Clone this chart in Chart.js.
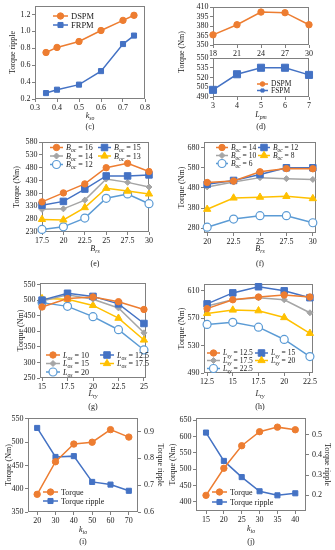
<!DOCTYPE html>
<html><head><meta charset="utf-8">
<script src="https://cdn.jsdelivr.net/npm/chart.js@4.4.1/dist/chart.umd.min.js"></script>
<style>html,body{margin:0;padding:0;background:#fff}body{width:335px;height:550px;position:relative;overflow:hidden}canvas{position:absolute}</style>
</head><body>
<script>
// ---------------- data ----------------
// (c) torque ripple vs k_so
const cKso = [0.35, 0.4, 0.5, 0.6, 0.7, 0.75];
const cDSPM = [0.75, 0.81, 0.88, 1.01, 1.13, 1.19];
const cFRPM = [0.27, 0.31, 0.37, 0.53, 0.85, 0.95];
const cXTicks = [0.3, 0.4, 0.5, 0.6, 0.7, 0.8];
const cYTicks = [0.2, 0.4, 0.6, 0.8, 1.0, 1.2];
// (d) torque vs L_pm
const dLpmDSPM = [18, 21, 24, 27, 30];
const dDSPM = [366, 382, 402, 401, 382];
const dLpmFSPM = [3, 4, 5, 6, 7];
const dFSPM = [501, 525, 535, 535, 524];
const dTopYTicks = [350, 365, 380, 395, 410];
const dBotYTicks = [490, 505, 520, 535, 550];
// (e) torque vs B_rs for B_oc
const eBrs = [17.5, 20, 22.5, 25, 27.5, 30];
const eB16 = [347, 382, 417, 480, 497, 465];
const eB15 = [334, 349, 397, 448, 448, 452];
const eB14 = [318, 320, 354, 436, 423, 405];
const eB13 = [279, 277, 325, 400, 389, 378];
const eB12 = [240, 250, 284, 361, 378, 340];
const eYTicks = [230, 280, 330, 380, 430, 480, 530, 580];
// (f) torque vs B_rs for B_oc
const fBrs = [20, 22.5, 25, 27.5, 30];
const fB14 = [507, 514, 560, 576, 575];
const fB12 = [498, 517, 547, 580, 580];
const fB10 = [485, 509, 531, 526, 522];
const fB8 = [374, 430, 434, 438, 427];
const fB6 = [285, 325, 342, 342, 307];
const fYTicks = [280, 380, 480, 580, 680];
// (g) torque vs L_ry for L_os
const gLry = [15, 17.5, 20, 22.5, 25];
const gL10 = [478, 505, 510, 495, 470];
const gL125 = [500, 522, 512, 488, 425];
const gL15 = [497, 517, 503, 475, 395];
const gL175 = [505, 503, 483, 442, 372];
const gL20 = [492, 480, 447, 405, 340];
const gYTicks = [250, 300, 350, 400, 450, 500, 550];
// (h) torque vs L_ry for L_sy
const hLry = [12.5, 15, 17.5, 20, 22.5];
const hL125 = [584, 597, 601, 604, 601];
const hL15 = [591, 607, 616, 610, 600];
const hL175 = [588, 597, 600, 597, 578];
const hL20 = [577, 582, 581, 571, 548];
const hL225 = [561, 564, 557, 539, 514];
const hYTicks = [490, 530, 570, 610];
// (i) torque & ripple vs k_io
const iKio = [20, 30, 40, 50, 60, 70];
const iTorque = [388, 458, 496, 500, 527, 511];
const iRipple = [0.913, 0.805, 0.808, 0.712, 0.702, 0.679];
const iYTicks = [350, 400, 450, 500, 550];
const iY2Ticks = [0.6, 0.7, 0.8, 0.9];
// (j) torque & ripple vs k_io
const jKio = [15, 20, 25, 30, 35, 40];
const jTorque = [420, 503, 572, 615, 629, 621];
const jRipple = [0.51, 0.37, 0.29, 0.22, 0.20, 0.21];
const jYTicks = [400, 450, 500, 550, 600, 650];
const jY2Ticks = [0.2, 0.3, 0.4, 0.5];

// ---------------- styling ----------------
const FONT = "'Liberation Serif','Times New Roman',Times,serif";
const FS = 8;
const C = { or: '#ED7D31', bl: '#4472C4', gr: '#A5A5A5', ye: '#FFC000', lb: '#5B9BD5', frame: '#808080', txt: '#1a1a1a' };
const ST = {
  or: { c: C.or, ps: 'circle', r: 3.2 },
  bl: { c: C.bl, ps: 'rect', r: 4.6 },
  gr: { c: C.gr, ps: 'rectRot', r: 3 },
  ye: { c: C.ye, ps: 'triangle', r: 4.2 },
  lb: { c: C.lb, ps: 'circle', r: 4, open: true },
};

function ds(xs, ys, st, axisId) {
  return {
    data: xs.map((x, i) => ({ x, y: ys[i] })),
    borderColor: st.c, backgroundColor: st.c,
    pointBackgroundColor: st.open ? '#fff' : st.c, pointBorderColor: st.c,
    pointStyle: st.ps, pointRadius: st.r, pointBorderWidth: st.open ? 1.2 : 1,
    borderWidth: 1.5, tension: 0, yAxisID: axisId || 'y', clip: false
  };
}

function rich(ctx, parts, x, y, size, align) {
  align = align || 'center';
  const f = k => (k === 'n' ? '' : 'italic ') + (k === 's' ? size * 0.72 : size) + 'px ' + FONT;
  let w = 0;
  for (const [t, k] of parts) { ctx.font = f(k); w += ctx.measureText(t).width; }
  let cx = align === 'center' ? x - w / 2 : align === 'right' ? x - w : x;
  ctx.textAlign = 'left'; ctx.textBaseline = 'alphabetic'; ctx.fillStyle = C.txt;
  for (const [t, k] of parts) {
    ctx.font = f(k);
    ctx.fillText(t, cx, y + (k === 's' ? size * 0.28 : 0));
    cx += ctx.measureText(t).width;
  }
}
function marker(ctx, st, x, y, r) {
  r = r || st.r;
  ctx.beginPath();
  if (st.ps === 'circle') ctx.arc(x, y, r, 0, Math.PI * 2);
  else if (st.ps === 'rect') { const s = r * Math.SQRT1_2; ctx.rect(x - s, y - s, 2 * s, 2 * s); }
  else if (st.ps === 'rectRot') { ctx.moveTo(x, y - r); ctx.lineTo(x + r, y); ctx.lineTo(x, y + r); ctx.lineTo(x - r, y); ctx.closePath(); }
  else if (st.ps === 'triangle') { ctx.moveTo(x, y - r); ctx.lineTo(x + r * 0.866, y + r * 0.5); ctx.lineTo(x - r * 0.866, y + r * 0.5); ctx.closePath(); }
  ctx.fillStyle = st.open ? '#fff' : st.c; ctx.fill();
  ctx.strokeStyle = st.c; ctx.lineWidth = st.open ? 1.2 : 1; ctx.stroke();
}
function legItem(ctx, x, y, len, st, parts, size, r) {
  ctx.save();
  ctx.strokeStyle = st.c; ctx.lineWidth = 1.5;
  ctx.beginPath(); ctx.moveTo(x, y); ctx.lineTo(x + len, y); ctx.stroke();
  marker(ctx, st, x + len / 2, y, r);
  ctx.restore();
  rich(ctx, parts, x + len + 3, y + size * 0.33, size, 'left');
}
function legGrid(ctx, items, cols, rows, len, size) {
  items.forEach((it, k) => {
    const x = cols[k % 2], y = rows[Math.floor(k / 2)];
    legItem(ctx, x, y, len, it[0], it[1], size, it[2]);
  });
}
const lab = (b, s, v) => [[b, 'i'], [s, 's'], [' = ' + v, 'n']];

function axis(spec, pos, afterFit, title, pad) {
  return {
    type: 'linear', position: pos, min: spec.min, max: spec.max,
    afterBuildTicks: s => { s.ticks = spec.ticks.map(v => ({ value: v })); },
    afterFit,
    ticks: { callback: spec.fmt || (v => String(v)), font: { family: FONT, size: FS }, color: C.txt,
      padding: pad == null ? 1.5 : pad, maxRotation: 0, minRotation: 0, autoSkip: false },
    grid: { display: true, drawOnChartArea: false, drawTicks: true, tickLength: 3, color: C.frame, lineWidth: 1 },
    border: { display: false },
    title: title ? { display: true, text: title, font: { family: FONT, size: FS }, color: C.txt, padding: 0 } : { display: false },
  };
}

function panel(p) {
  const [l, t, r, b] = p.rect;
  const padT = p.padT == null ? 9 : p.padT;
  const rW = p.rW || 0;
  const padR = rW ? 0 : 12;
  const ox = l - p.yW, oy = t - padT;
  const W = p.yW + (r - l) + rW + padR;
  const H = padT + (b - t) + p.xH;
  const cv = document.createElement('canvas');
  cv.width = W; cv.height = H;
  cv.style.left = ox + 'px'; cv.style.top = oy + 'px';
  cv.style.width = W + 'px'; cv.style.height = H + 'px';
  document.body.appendChild(cv);
  const scales = {
    x: axis(p.x, 'bottom', s => { s.height = p.xH; }),
    y: axis(p.y, 'left', s => { s.width = p.yW; }, p.yTitle),
  };
  if (p.y2) scales.y2 = axis(p.y2, 'right', s => { s.width = rW; }, p.y2Title, 3);
  new Chart(cv, {
    type: 'line',
    data: { datasets: p.datasets },
    options: {
      responsive: false, animation: false, devicePixelRatio: 1, events: [],
      layout: { padding: { top: padT, right: padR, left: 0, bottom: 0 } },
      plugins: { legend: { display: false }, tooltip: { enabled: false } },
      scales,
    },
    plugins: [{
      id: 'frameExtra',
      beforeDatasetsDraw(chart) {
        const a = chart.chartArea, ctx = chart.ctx;
        ctx.save(); ctx.strokeStyle = C.frame; ctx.lineWidth = 1;
        ctx.strokeRect(Math.round(a.left) + 0.5, Math.round(a.top) + 0.5, Math.round(a.right - a.left) - 1, Math.round(a.bottom - a.top) - 1);
        ctx.restore();
      },
      afterDraw(chart) {
        if (!p.extra) return;
        const ctx = chart.ctx;
        ctx.save(); ctx.translate(-ox, -oy); p.extra(ctx); ctx.restore();
      }
    }]
  });
}
const f1 = v => v.toFixed(1);

// (c)
panel({
  rect: [35, 6, 145, 99], yW: 27, xH: 33,
  x: { min: 0.3, max: 0.8, ticks: cXTicks, fmt: f1 },
  y: { min: 0.2, max: 1.3, ticks: cYTicks, fmt: f1 },
  yTitle: 'Torque ripple',
  datasets: [ds(cKso, cDSPM, ST.or), ds(cKso, cFRPM, { ...ST.bl, r: 3.6 })],
  extra: ctx => {
    rich(ctx, [['k', 'i'], ['so', 's']], 90, 117.5, FS);
    rich(ctx, [['(c)', 'n']], 90, 129, FS);
    legItem(ctx, 53, 16, 15, ST.or, [['DSPM', 'n']], 8.5);
    legItem(ctx, 53, 25, 15, { ...ST.bl, r: 3.6 }, [['FRPM', 'n']], 8.5);
  }
});
// (d) top
panel({
  rect: [213, 7, 309, 45], yW: 30, xH: 12,
  x: { min: 18, max: 30, ticks: dLpmDSPM },
  y: { min: 350, max: 410, ticks: dTopYTicks },
  datasets: [ds(dLpmDSPM, dDSPM, ST.or)],
});
// (d) bottom
panel({
  rect: [213, 58, 309, 97], yW: 40, xH: 34, padT: 30,
  x: { min: 3, max: 7, ticks: dLpmFSPM },
  y: { min: 490, max: 550, ticks: dBotYTicks },
  datasets: [ds(dLpmFSPM, dFSPM, { ...ST.bl, r: 5 })],
  extra: ctx => {
    ctx.save(); ctx.translate(181, 52); ctx.rotate(-Math.PI / 2);
    rich(ctx, [['Torque (Nm)', 'n']], 0, 3, FS); ctx.restore();
    rich(ctx, [['L', 'i'], ['pm', 's']], 261, 117, FS);
    rich(ctx, [['(d)', 'n']], 261, 129, FS);
    legItem(ctx, 257, 84, 11, ST.or, [['DSPM', 'n']], 7.5, 2.3);
    legItem(ctx, 257, 90.5, 11, ST.bl, [['FSPM', 'n']], 7.5, 2.2);
  }
});
// (e)
panel({
  rect: [42, 142, 149, 232], yW: 30, xH: 36,
  x: { min: 17.5, max: 30, ticks: eBrs },
  y: { min: 230, max: 580, ticks: eYTicks },
  yTitle: 'Torque (Nm)',
  datasets: [ds(eBrs, eB16, ST.or), ds(eBrs, eB15, ST.bl), ds(eBrs, eB14, ST.gr), ds(eBrs, eB13, ST.ye), ds(eBrs, eB12, ST.lb)],
  extra: ctx => {
    rich(ctx, [['B', 'i'], ['rs', 's']], 95, 250.5, FS);
    rich(ctx, [['(e)', 'n']], 95, 266, FS);
    legGrid(ctx, [[ST.or, lab('B', 'oc', 16)], [ST.bl, lab('B', 'oc', 15)], [ST.gr, lab('B', 'oc', 14)], [ST.ye, lab('B', 'oc', 13)], [ST.lb, lab('B', 'oc', 12)]],
      [50, 98], [147.5, 156, 164.5], 13, 8);
  }
});
// (f)
panel({
  rect: [204, 142, 316, 233], yW: 27, xH: 35,
  x: { min: 19.7, max: 30.3, ticks: fBrs },
  y: { min: 256, max: 708, ticks: fYTicks },
  yTitle: 'Torque (Nm)',
  datasets: [ds(fBrs, fB14, ST.or), ds(fBrs, fB12, ST.bl), ds(fBrs, fB10, ST.gr), ds(fBrs, fB8, ST.ye), ds(fBrs, fB6, ST.lb)],
  extra: ctx => {
    rich(ctx, [['B', 'i'], ['rs', 's']], 260, 250.5, FS);
    rich(ctx, [['(f)', 'n']], 260, 266, FS);
    legGrid(ctx, [[ST.or, lab('B', 'oc', 14)], [ST.bl, lab('B', 'oc', 12)], [ST.gr, lab('B', 'oc', 10)], [ST.ye, lab('B', 'oc', 8)], [ST.lb, lab('B', 'oc', 6)]],
      [216, 258], [147.5, 155.5, 163.5], 12, 7.5);
  }
});
// (g)
panel({
  rect: [40, 283, 146, 378], yW: 24, xH: 33,
  x: { min: 14.8, max: 25.2, ticks: gLry },
  y: { min: 250, max: 555, ticks: gYTicks },
  yTitle: 'Torque (Nm)',
  datasets: [ds(gLry, gL10, ST.or), ds(gLry, gL125, ST.bl), ds(gLry, gL15, ST.gr), ds(gLry, gL175, ST.ye), ds(gLry, gL20, ST.lb)],
  extra: ctx => {
    rich(ctx, [['L', 'i'], ['ry', 's']], 93, 395.5, FS);
    rich(ctx, [['(g)', 'n']], 93, 409, FS);
    legGrid(ctx, [[ST.or, lab('L', 'os', 10)], [ST.bl, lab('L', 'os', 12.5)], [ST.gr, lab('L', 'os', 15)], [ST.ye, lab('L', 'os', 17.5)], [ST.lb, lab('L', 'os', 20)]],
      [46, 100], [355, 363.5, 372], 14, 8);
  }
});
// (h)
panel({
  rect: [204, 284, 313, 373], yW: 27, xH: 38,
  x: { min: 12.2, max: 22.8, ticks: hLry },
  y: { min: 490, max: 620, ticks: hYTicks },
  yTitle: 'Torque (Nm)',
  datasets: [ds(hLry, hL125, ST.or), ds(hLry, hL15, ST.bl), ds(hLry, hL175, ST.gr), ds(hLry, hL20, ST.ye), ds(hLry, hL225, ST.lb)],
  extra: ctx => {
    rich(ctx, [['L', 'i'], ['ry', 's']], 260, 395.5, FS);
    rich(ctx, [['(h)', 'n']], 260, 409, FS);
    legGrid(ctx, [[ST.or, lab('L', 'sy', 12.5)], [ST.bl, lab('L', 'sy', 15)], [ST.gr, lab('L', 'sy', 17.5)], [ST.ye, lab('L', 'sy', 20)], [ST.lb, lab('L', 'sy', 22.5)]],
      [207, 255], [353, 360.5, 368.5], 13, 7.5);
  }
});
// (i)
panel({
  rect: [28, 418, 138, 512], yW: 24, rW: 27, xH: 34,
  x: { min: 15, max: 75, ticks: iKio },
  y: { min: 350, max: 552, ticks: iYTicks },
  y2: { min: 0.6, max: 0.95, ticks: iY2Ticks, fmt: f1 },
  yTitle: 'Torque (Nm)', y2Title: 'Torque ripple',
  datasets: [ds(iKio, iTorque, ST.or), ds(iKio, iRipple, { ...ST.bl, r: 3.6 }, 'y2')],
  extra: ctx => {
    rich(ctx, [['k', 'i'], ['io', 's']], 83, 531.5, FS);
    rich(ctx, [['(i)', 'n']], 83, 544, FS);
    legItem(ctx, 43, 492, 15, ST.or, [['Torque', 'n']], 8);
    legItem(ctx, 43, 501, 15, { ...ST.bl, r: 3.6 }, [['Torque ripple', 'n']], 8);
  }
});
// (j)
panel({
  rect: [196, 418, 306, 511], yW: 28, rW: 26, xH: 35,
  x: { min: 12.2, max: 43, ticks: jKio },
  y: { min: 372, max: 657, ticks: jYTicks },
  y2: { min: 0.1225, max: 0.582, ticks: jY2Ticks, fmt: f1 },
  yTitle: 'Torque (Nm)', y2Title: 'Torque ripple',
  datasets: [ds(jKio, jTorque, ST.or), ds(jKio, jRipple, { ...ST.bl, r: 3.6 }, 'y2')],
  extra: ctx => {
    rich(ctx, [['k', 'i'], ['io', 's']], 251, 530.5, FS);
    rich(ctx, [['(j)', 'n']], 251, 544, FS);
    legItem(ctx, 212, 492, 15, ST.or, [['Torque', 'n']], 8);
    legItem(ctx, 212, 502, 15, { ...ST.bl, r: 3.6 }, [['Torque ripple', 'n']], 8);
  }
});
</script>
</body></html>
